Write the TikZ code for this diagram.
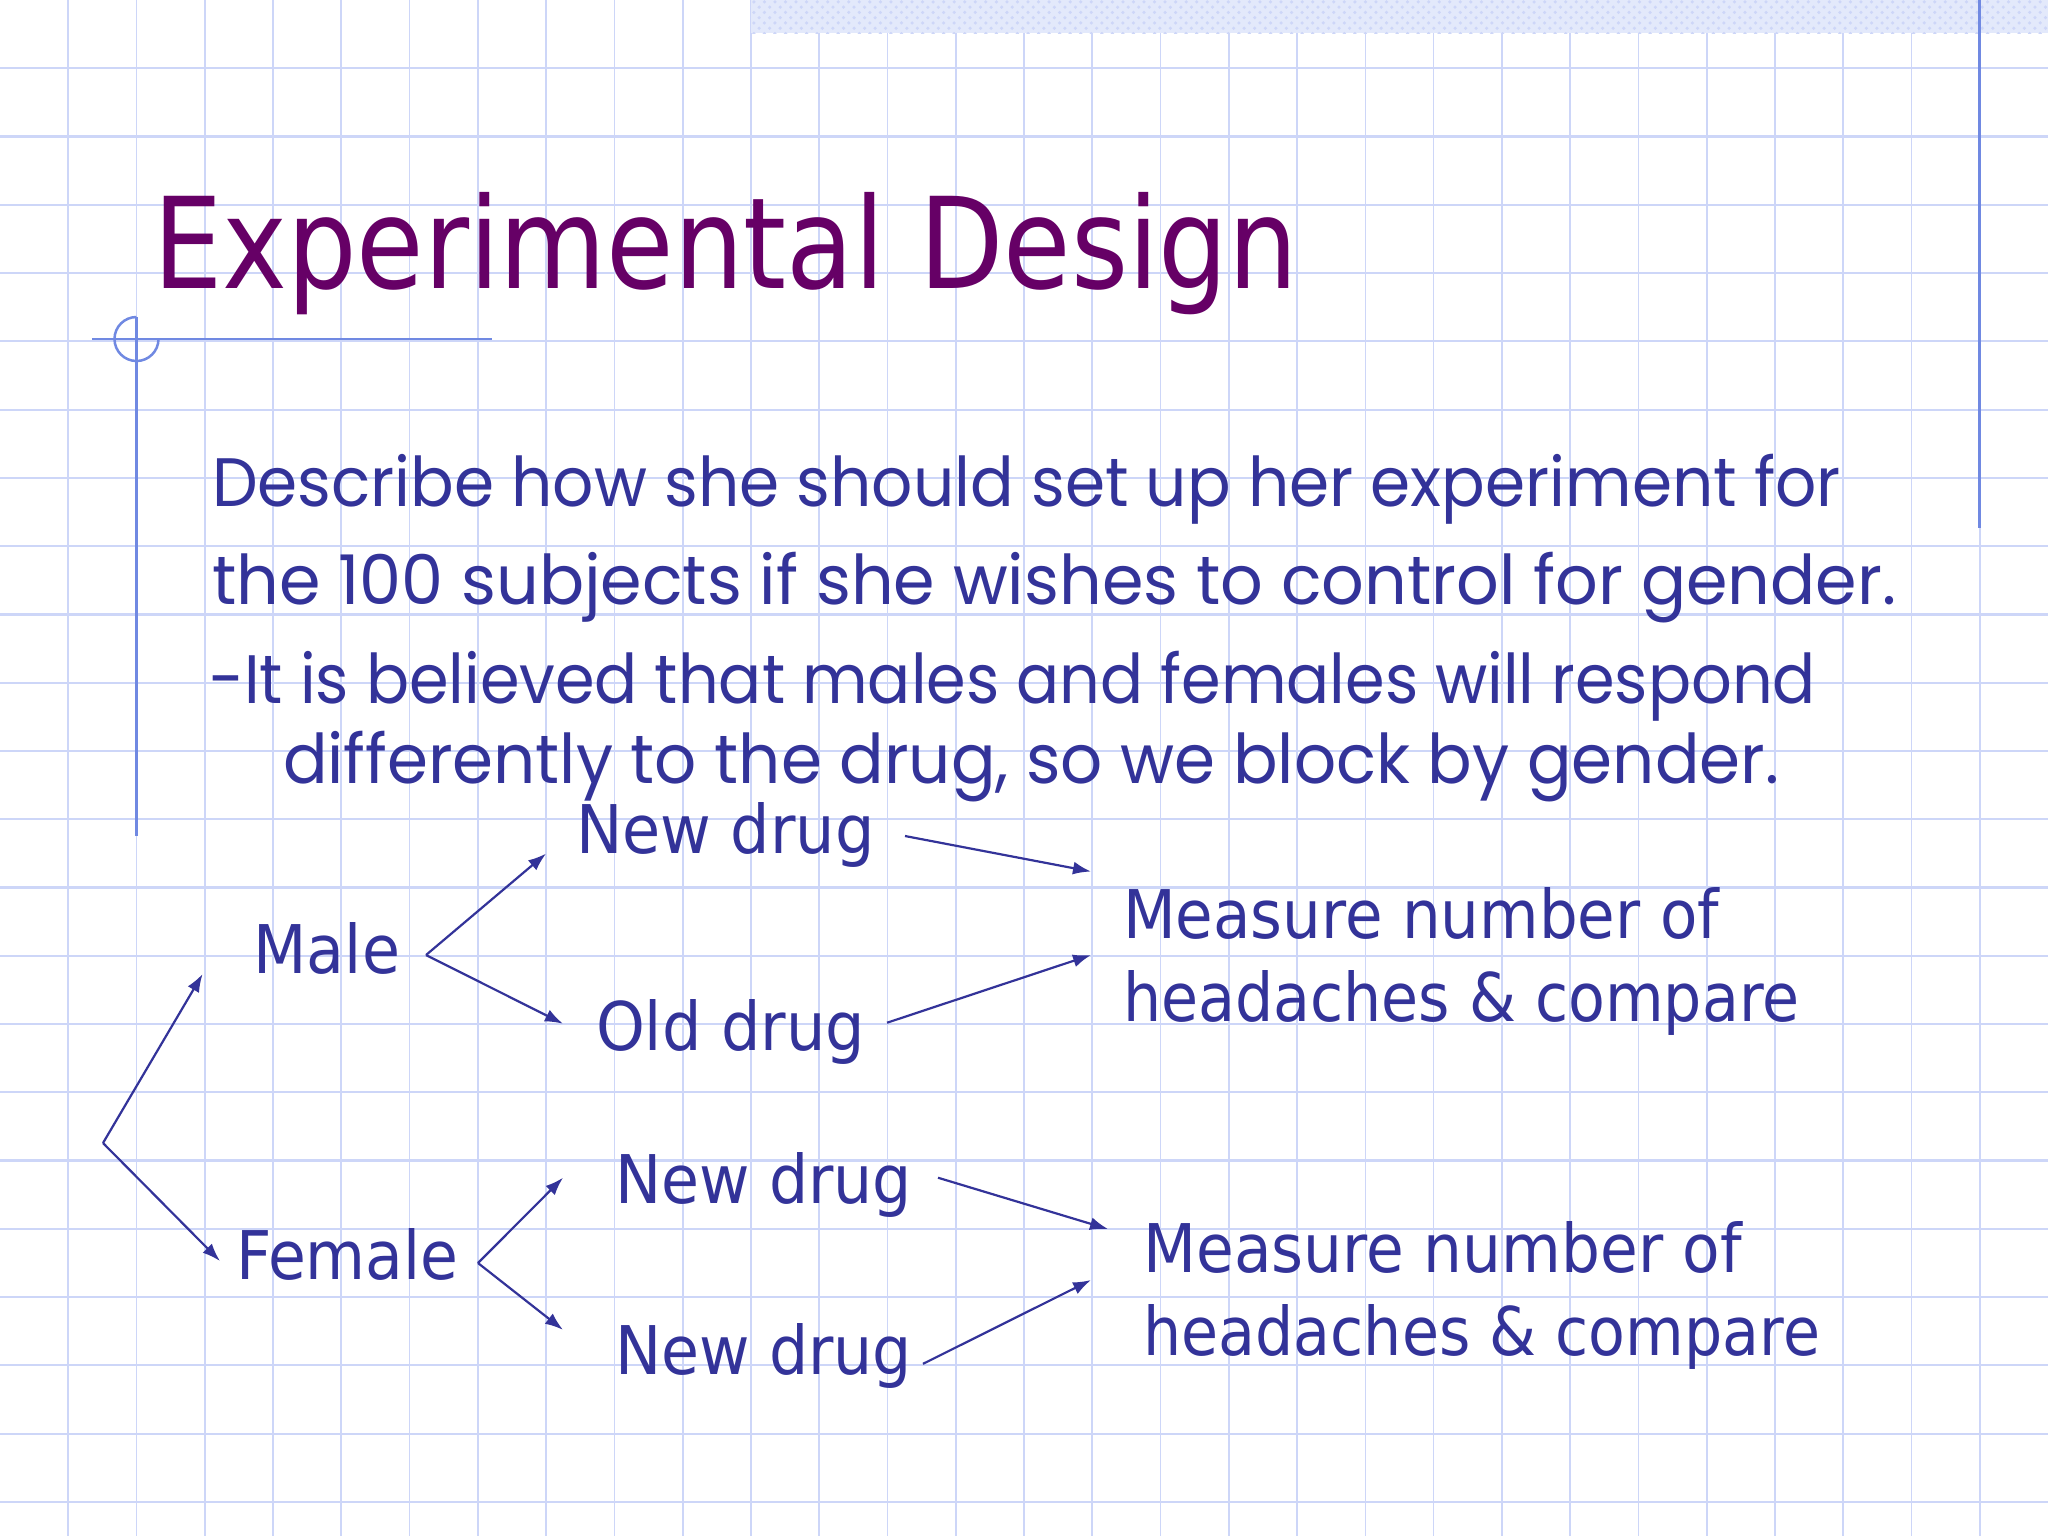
\documentclass[tikz,border=0pt]{standalone}
\usepackage{fontspec}
\setmainfont{DejaVu Sans}
\newfontfamily\handfont{Poppins}
\usepackage{graphicx}
\usepackage{xcolor}
\usepackage{tikz}
\usetikzlibrary{arrows.meta,patterns,positioning}
\definecolor{slidetitle}{HTML}{660066}
\definecolor{slidetext}{HTML}{333399}
\definecolor{gridblue}{HTML}{CDD6F8}
\definecolor{marginblue}{HTML}{7089E2}
\newcommand{\fitto}[2]{\resizebox{#1}{\height}{#2}}
\tikzset{
	txt/.style = {anchor=base west, inner sep=0pt, outer sep=0pt, text=slidetext},
	heading/.style = {txt, text=slidetitle, font=\fontsize{36}{40}\selectfont},
	para/.style = {txt, font=\handfont\fontsize{19.5}{22}\selectfont},
	lbl/.style = {txt, font=\fontsize{19.1}{22}\selectfont},
	arr/.style = {draw=slidetext, line width=0.22mm, -{Latex[length=1.8mm,width=1.3mm]}},
	gridh/.style = {draw=gridblue, line width=0.22mm},
	gridv/.style = {draw=gridblue, line width=0.17mm},
	margin/.style = {draw=marginblue, line width=0.25mm},
}

\begin{document}
\begin{tikzpicture}[x=0.1mm, y=-0.1mm]
	\useasboundingbox (0,0) rectangle (2048,1536);
	\fill[white] (0,0) rectangle (2048,1536);

	% squared paper
	\foreach \k in {1,...,29} \draw[gridv] (\k*68.267,0) -- (\k*68.267,1536);
	\foreach \k in {1,...,22} \draw[gridh] (0,\k*68.267) -- (2048,\k*68.267);
	\fill[gridblue!55] (751,0) rectangle (2048,33);
	\fill[pattern=crosshatch dots, pattern color=gridblue] (751,0) rectangle (2048,33);
	\draw[margin] (1979.7,0) -- (1979.7,528);
	\draw[margin] (136.5,317) -- (136.5,836);
	\draw[margin] (92,339) -- (492,339);
	\draw[margin] (136.5,317) arc[start angle=90, end angle=360, radius=2.2mm];

	\node[heading] (title) at (153,288) {\fitto{114.5mm}{Experimental Design}};

	\node[para] (q1) at (212,506) {\fitto{162.9mm}{Describe how she should set up her experiment for}};
	\node[para] (q2) at (212,604) {\fitto{168.4mm}{the 100 subjects if she wishes to control for gender.}};
	\node[para] (q3) at (209,703) {\fitto{160.7mm}{-It is believed that males and females will respond}};
	\node[para] (q4) at (283,783) {\fitto{149.6mm}{differently to the drug, so we block by gender.}};

	\node[lbl] (male) at (253.6,973) {\fitto{14.64mm}{Male}};
	\node[lbl] (female) at (236,1279.5) {\fitto{22.25mm}{Female}};
	\node[lbl] (newA) at (576,853.6) {\fitto{29.85mm}{New drug}};
	\node[lbl] (old) at (596,1050.7) {\fitto{26.9mm}{Old drug}};
	\node[lbl] (newB) at (615,1203.7) {\fitto{29.7mm}{New drug}};
	\node[lbl] (newC) at (615,1374.8) {\fitto{29.7mm}{New drug}};
	\node[lbl] (measA) at (1123,938.5) {\fitto{59.6mm}{Measure number of}};
	\node[lbl] (measAb) at (1123,1021) {\fitto{67.65mm}{headaches \& compare}};
	\node[lbl] (measB) at (1143.5,1272.6) {\fitto{59.85mm}{Measure number of}};
	\node[lbl] (measBb) at (1143.5,1355) {\fitto{67.65mm}{headaches \& compare}};

	\coordinate (root) at (103,1143);
	\coordinate (mfork) at ([shift={(26,-18)}]male.base east);
	\coordinate (ffork) at ([shift={(19.5,-16.5)}]female.base east);

	\draw[arr] (root) -- ([shift={(-51,1)}]male.base west);
	\draw[arr] (root) -- ([shift={(-16,-18.5)}]female.base west);
	\draw[arr] (mfork) -- ([shift={(-30,0)}]newA.base west);
	\draw[arr] (mfork) -- ([shift={(-33,-27)}]old.base west);
	\draw[arr] (ffork) -- ([shift={(-52,-26)}]newB.base west);
	\draw[arr] (ffork) -- ([shift={(-52,-45)}]newC.base west);

	\draw[arr] ([shift={(30.5,-17.6)}]newA.base east) -- ([shift={(-32,-67)}]measA.base west);
	\draw[arr] ([shift={(22,-28)}]old.base east) -- ([shift={(-32,16.5)}]measA.base west);
	\draw[arr] ([shift={(26,-26)}]newB.base east) -- ([shift={(-35.5,-43.6)}]measB.base west);
	\draw[arr] ([shift={(11,-11)}]newC.base east) -- ([shift={(-52.5,7.4)}]measB.base west);
\end{tikzpicture}
\end{document}
